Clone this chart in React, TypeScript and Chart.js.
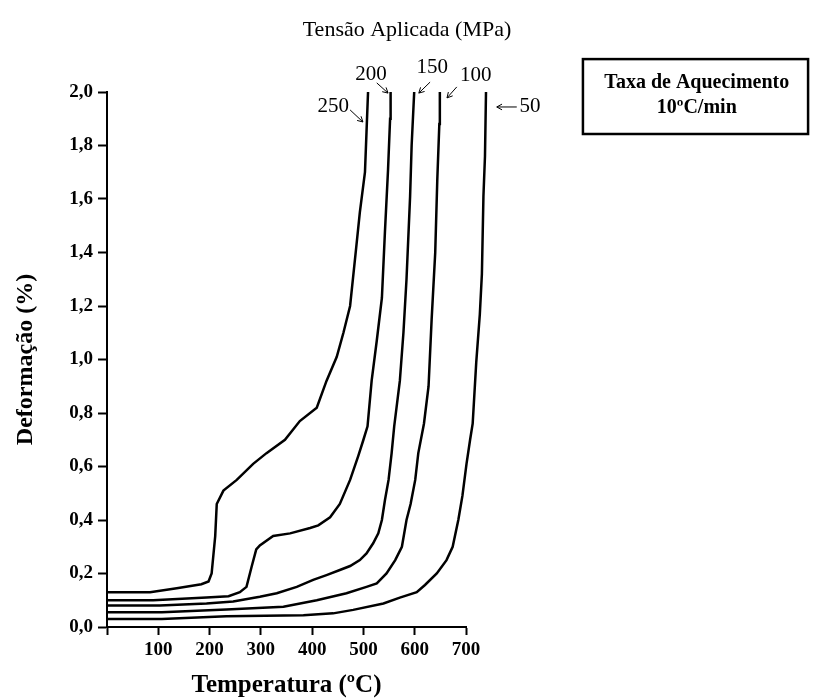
import React, { useEffect, useRef } from "react";
import { Chart, registerables } from "chart.js";

Chart.register(...registerables);

// Applied stress (MPa) series: temperature (°C) vs deformation (%)
const t250 = [0, 84, 136, 184, 198, 204, 211, 214, 227, 253, 285, 311, 347, 376, 409, 428, 448, 461, 474, 486, 493, 503, 506, 509];
const d250 = [0.13, 0.13, 0.145, 0.16, 0.17, 0.2, 0.34, 0.46, 0.51, 0.55, 0.61, 0.65, 0.7, 0.77, 0.82, 0.92, 1.01, 1.1, 1.2, 1.42, 1.55, 1.7, 1.85, 2.0];

const t200 = [0, 90, 194, 237, 259, 272, 282, 291, 298, 324, 357, 396, 412, 435, 454, 474, 490, 500, 508, 516, 526, 536, 542, 548, 552, 553];
const d200 = [0.1, 0.1, 0.11, 0.115, 0.13, 0.15, 0.225, 0.29, 0.305, 0.34, 0.35, 0.37, 0.38, 0.41, 0.46, 0.55, 0.64, 0.7, 0.75, 0.92, 1.07, 1.23, 1.48, 1.71, 1.9, 2.0];

const t150 = [0, 103, 194, 246, 298, 331, 370, 402, 428, 454, 474, 493, 506, 519, 529, 536, 542, 549, 555, 560, 571, 578, 584, 591, 594, 599];
const d150 = [0.08, 0.08, 0.088, 0.095, 0.113, 0.126, 0.15, 0.176, 0.194, 0.213, 0.228, 0.25, 0.275, 0.313, 0.35, 0.4, 0.475, 0.55, 0.65, 0.75, 0.92, 1.1, 1.3, 1.61, 1.8, 2.0];

const t100 = [0, 107, 233, 344, 409, 467, 506, 526, 545, 562, 575, 584, 592, 601, 607, 618, 627, 633, 640, 644, 648, 649];
const d100 = [0.055, 0.055, 0.065, 0.076, 0.1, 0.126, 0.15, 0.163, 0.2, 0.25, 0.3, 0.4, 0.46, 0.55, 0.65, 0.76, 0.9, 1.15, 1.4, 1.67, 1.88, 2.0];

const t50 = [0, 107, 233, 383, 441, 480, 539, 571, 604, 620, 643, 662, 674, 685, 693, 701, 708, 713, 720, 727, 731, 734, 737, 739];
const d50 = [0.03, 0.03, 0.04, 0.044, 0.051, 0.064, 0.088, 0.11, 0.13, 0.157, 0.2, 0.25, 0.3, 0.4, 0.49, 0.61, 0.7, 0.76, 0.99, 1.17, 1.32, 1.61, 1.76, 2.0];

const seriesNames = ["250", "200", "150", "100", "50"];
const seriesT = [t250, t200, t150, t100, t50];
const seriesD = [d250, d200, d150, d100, d50];

const xTitle = "Temperatura (ºC)";
const yTitle = "Deformação (%)";
const topTitle = "Tensão Aplicada (MPa)";
const boxLines = ["Taxa de Aquecimento", "10ºC/min"];

// annotation anchors in data units (temperature, deformation)
const labelAnchors = [
  { text: "250", x: 441, y: 1.944, ax1: 474, ay1: 1.933, ax2: 499, ay2: 1.888 },
  { text: "200", x: 515, y: 2.067, ax1: 526, ay1: 2.034, ax2: 548, ay2: 1.996 },
  { text: "150", x: 634, y: 2.093, ax1: 630, ay1: 2.037, ax2: 608, ay2: 1.996 },
  { text: "100", x: 719, y: 2.06, ax1: 682, ay1: 2.019, ax2: 663, ay2: 1.978 },
  { text: "50", x: 825, y: 1.944, ax1: 799, ay1: 1.944, ax2: 760, ay2: 1.944 },
];
const topTitleAnchor = { x: 585, y: 2.232 };
const boxAnchor = { x1: 928, x2: 1367, y1: 2.123, y2: 1.843, tx: 1150, ty1: 2.034, ty2: 1.94 };

const SERIF = "'Liberation Serif', 'Times New Roman', serif";

function drawArrow(ctx: CanvasRenderingContext2D, x1: number, y1: number, x2: number, y2: number) {
  ctx.beginPath();
  ctx.moveTo(x1, y1);
  ctx.lineTo(x2, y2);
  const ang = Math.atan2(y2 - y1, x2 - x1);
  const h = 6;
  ctx.moveTo(x2, y2);
  ctx.lineTo(x2 - h * Math.cos(ang - 0.5), y2 - h * Math.sin(ang - 0.5));
  ctx.moveTo(x2, y2);
  ctx.lineTo(x2 - h * Math.cos(ang + 0.5), y2 - h * Math.sin(ang + 0.5));
  ctx.stroke();
}

const annotationPlugin = {
  id: "annotations",
  afterDraw(chart: any) {
    const ctx: CanvasRenderingContext2D = chart.ctx;
    const xs = chart.scales.x;
    const ys = chart.scales.y;
    const px = (v: number) => xs.getPixelForValue(v);
    const py = (v: number) => ys.getPixelForValue(v);
    ctx.save();
    ctx.fillStyle = "#000";
    ctx.strokeStyle = "#000";
    ctx.textAlign = "center";
    ctx.textBaseline = "middle";
    ctx.font = `22px ${SERIF}`;
    ctx.fillText(topTitle, px(topTitleAnchor.x), py(topTitleAnchor.y));
    ctx.font = `21px ${SERIF}`;
    ctx.lineWidth = 1;
    for (const a of labelAnchors) {
      ctx.fillText(a.text, px(a.x), py(a.y));
      drawArrow(ctx, px(a.ax1), py(a.ay1), px(a.ax2), py(a.ay2));
    }
    // box
    ctx.lineWidth = 2.5;
    const bx1 = px(boxAnchor.x1), bx2 = px(boxAnchor.x2);
    const by1 = py(boxAnchor.y1), by2 = py(boxAnchor.y2);
    ctx.strokeRect(bx1, by1, bx2 - bx1, by2 - by1);
    ctx.font = `bold 20px ${SERIF}`;
    ctx.fillText(boxLines[0], px(boxAnchor.tx), py(boxAnchor.ty1));
    ctx.fillText(boxLines[1], px(boxAnchor.tx), py(boxAnchor.ty2));
    ctx.restore();
  },
};

export default function App() {
  const ref = useRef<HTMLCanvasElement | null>(null);
  useEffect(() => {
    if (!ref.current) return;
    const datasets = seriesNames.map((name, i) => ({
      label: name + " MPa",
      data: seriesT[i].map((t, j) => ({ x: t, y: seriesD[i][j] })),
      indexAxis: "y",
      borderColor: "#000",
      backgroundColor: "#000",
      borderWidth: 2.5,
      pointRadius: 0,
      tension: 0,
      fill: false,
      clip: false as any,
    }));
    const chart = new Chart(ref.current, {
      type: "line",
      data: { datasets } as any,
      options: {
        animation: false,
        responsive: false,
        maintainAspectRatio: false,
        indexAxis: "y",
        layout: { padding: { left: 0, right: 347, top: 92, bottom: 0 } },
        plugins: { legend: { display: false }, tooltip: { enabled: false } },
        scales: {
          x: {
            type: "linear",
            position: "bottom",
            min: 0,
            max: 700,
            ticks: {
              stepSize: 100,
              autoSkip: false,
              maxRotation: 0,
              color: "#000",
              padding: 4,
              font: { family: SERIF, size: 19, weight: "bold" },
              callback: (v: any) => (Number(v) === 0 ? "" : String(v)),
            },
            grid: { drawOnChartArea: false, drawTicks: true, tickLength: 8, tickColor: "#000", tickWidth: 2 },
            border: { color: "#000", width: 2 },
            title: {
              display: true,
              text: xTitle,
              color: "#000",
              font: { family: SERIF, size: 25, weight: "bold", lineHeight: 1 },
              padding: { top: 0, bottom: 0 },
            },
            afterFit: (s: any) => {
              s.height = 71;
            },
          },
          y: {
            type: "linear",
            position: "left",
            min: 0,
            max: 2,
            ticks: {
              stepSize: 0.2,
              color: "#000",
              padding: 5,
              font: { family: SERIF, size: 19, weight: "bold" },
              callback: (v: any) => Number(v).toFixed(1).replace(".", ","),
            },
            grid: { drawOnChartArea: false, drawTicks: true, tickLength: 9, tickColor: "#000", tickWidth: 2 },
            border: { color: "#000", width: 2 },
            title: {
              display: true,
              text: yTitle,
              color: "#000",
              font: { family: SERIF, size: 24, weight: "bold", lineHeight: 1 },
              padding: { top: 14, bottom: 0 },
            },
            afterFit: (s: any) => {
              s.width = 107;
            },
          },
        },
      } as any,
      plugins: [annotationPlugin],
    });
    return () => chart.destroy();
  }, []);
  return (
    <div style={{ position: "absolute", left: 0, top: 0, width: 813, height: 698, background: "#fff" }}>
      <canvas ref={ref} width={813} height={698} style={{ display: "block", width: 813, height: 698 }} />
    </div>
  );
}
